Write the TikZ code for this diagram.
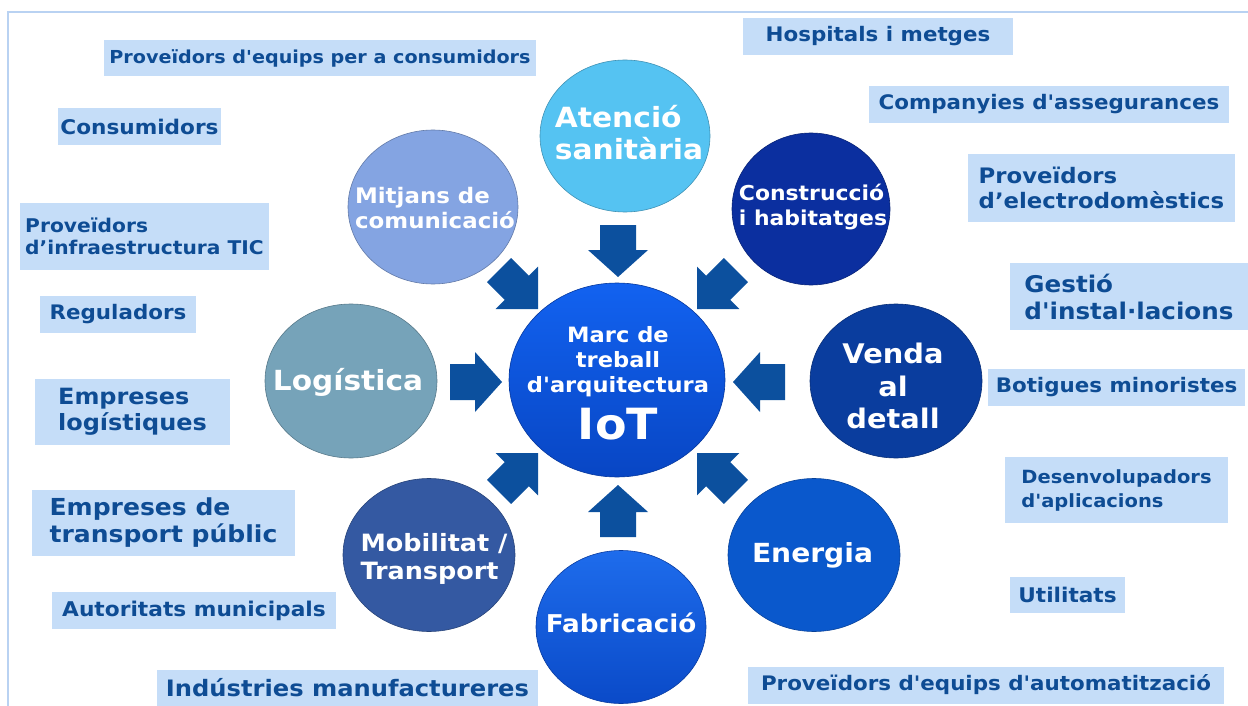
\documentclass[tikz,border=0pt]{standalone}
\usepackage{fontspec}
\newfontfamily\dejavu[FakeStretch=1.07]{DejaVu Sans}
\usetikzlibrary{shapes.geometric}

\definecolor{framecol}{RGB}{185,210,242}
\definecolor{boxfill}{RGB}{197,221,248}
\definecolor{boxtext}{RGB}{14,76,148}
\definecolor{arrowcol}{RGB}{12,80,158}
\definecolor{cAtencio}{RGB}{85,195,242}
\definecolor{cMitjans}{RGB}{132,164,226}
\definecolor{cConstr}{RGB}{11,47,159}
\definecolor{cLogist}{RGB}{118,163,185}
\definecolor{cVenda}{RGB}{10,61,158}
\definecolor{cMobil}{RGB}{52,89,162}
\definecolor{cEnergia}{RGB}{10,88,204}
\definecolor{cIotTop}{RGB}{18,98,240}
\definecolor{cIotBot}{RGB}{8,70,196}
\definecolor{cFabTop}{RGB}{30,108,236}
\definecolor{cFabBot}{RGB}{10,74,200}

\newcommand\fsz[2]{\dejavu\fontsize{#1}{#2}\selectfont\bfseries}
% partner box: name, centre x, centre y, width, height, size, leading, text
\newcommand\partnerbox[8]{%
  \node[partner, minimum width=#4pt, minimum height=#5pt, font=\fsz{#6}{#7}] (#1) at (#2,#3) {#8};}

\tikzset{
  partner/.style={fill=boxfill, text=boxtext, align=left, inner sep=0pt},
  sector/.style={ellipse, inner sep=0pt, fill=#1, draw=#1!75!black, line width=0.6pt},
  sectortext/.style={text=white, inner sep=0pt, align=left},
  % straight block arrow, tip at the origin, pointing along +x
  blockarrow/.pic={\fill[arrowcol] (0,0) -- (-27,-30) -- (-27,-18) -- (-52,-18)
                   -- (-52,18) -- (-27,18) -- (-27,30) -- cycle;},
  % diagonal block arrow with a right-angled head
  diagarrow/.pic={\fill[arrowcol] (0,0) -- (-30,-30) -- (-30,-17) -- (-55,-17)
                   -- (-55,17) -- (-30,17) -- (-30,30) -- cycle;}
}

\begin{document}
\begin{tikzpicture}[x=1pt,y=-1pt]
\useasboundingbox (0,0) rectangle (1248,706);
\fill[white] (0,0) rectangle (1248,706);

% frame lines
\draw[framecol, line width=1.2pt] (8,706) -- (8,12) -- (1248,12);

% partner boxes, left side
\partnerbox{pcons}{320}{58}{432}{36}{17.9}{21}{Proveïdors d'equips per a consumidors}
\partnerbox{cons}{139.5}{126.5}{163}{37}{20.2}{24}{Consumidors}
\partnerbox{tic}{144.5}{236.5}{249}{67}{18.9}{22.5}{Proveïdors\\d’infraestructura TIC}
\partnerbox{regul}{118}{314.5}{156}{37}{20}{24}{Reguladors}
\partnerbox{elog}{132.5}{412}{195}{66}{22.4}{26}{Empreses\\logístiques}
\partnerbox{etrans}{163.5}{523}{263}{66}{23.4}{27}{Empreses de\\transport públic}
\partnerbox{autor}{194}{610.5}{284}{37}{20.3}{24}{Autoritats municipals}
\partnerbox{indus}{347.5}{688}{381}{36}{22.6}{26}{Indústries manufactureres}

% partner boxes, right side
\partnerbox{hosp}{878}{36.5}{270}{37}{20}{24}{Hospitals i metges}
\partnerbox{asseg}{1049}{104.5}{360}{37}{20}{24}{Companyies d'assegurances}
\partnerbox{electro}{1101.5}{188}{267}{68}{21.3}{25}{Proveïdors\\d’electrodomèstics}
\partnerbox{gestio}{1129}{296.5}{238}{67}{23}{27}{Gestió\\d'instal·lacions}
\partnerbox{botig}{1116.5}{387.5}{257}{37}{20}{24}{Botigues minoristes}
\partnerbox{desenv}{1116.5}{490}{223}{66}{18.2}{24}{Desenvolupadors\\d'aplicacions}
\partnerbox{util}{1067.5}{595}{115}{36}{20.2}{24}{Utilitats}
\partnerbox{autom}{986}{685}{476}{37}{20}{24}{Proveïdors d'equips d'automatització}

% sector circles
\node[sector=cAtencio, minimum width=170pt, minimum height=152pt] (atencio) at (625,136) {};
\node[sector=cMitjans, minimum width=170pt, minimum height=154pt] (mitjans) at (433,207) {};
\node[sector=cConstr,  minimum width=158pt, minimum height=152pt] (constr)  at (811,209) {};
\node[sector=cLogist,  minimum width=172pt, minimum height=154pt] (logist)  at (351,381) {};
\node[sector=cVenda,   minimum width=172pt, minimum height=154pt] (venda)   at (896,381) {};
\node[sector=cMobil,   minimum width=172pt, minimum height=153pt] (mobil)   at (429,555) {};
\node[sector=cEnergia, minimum width=172pt, minimum height=153pt] (energia) at (814,555) {};
\node[ellipse, inner sep=0pt, top color=cFabTop, bottom color=cFabBot,
      draw=cFabBot!80!black, line width=0.6pt, minimum width=170pt,
      minimum height=153pt] (fabric) at (621,627) {};

% sector names
\node[sectortext, font=\fsz{27.8}{32}] (atencio-t) at (629,133) {Atenció\\sanitària};
\node[sectortext, font=\fsz{21.4}{25}] (mitjans-t) at (435,208) {Mitjans de\\comunicació};
\node[sectortext, font=\fsz{20.5}{25}] (constr-t) at (813,207) {Construcció\\i habitatges};
\node[sectortext, font=\fsz{27.7}{32}] (logist-t) at (348,382) {Logística};
\node[sectortext, align=center, font=\fsz{27}{32.5}] (venda-t) at (893,386) {Venda\\al\\detall};
\node[sectortext, font=\fsz{23.8}{28}] (mobil-t) at (434,559) {Mobilitat /\\Transport};
\node[sectortext, font=\fsz{24.5}{29}] (fabric-t) at (621,623) {Fabricació};
\node[sectortext, font=\fsz{26.3}{30}] (energia-t) at (812.5,555) {Energia};

% central framework
\node[ellipse, inner sep=0pt, top color=cIotTop, bottom color=cIotBot,
      draw=cIotBot!80!black, line width=0.6pt, minimum width=216pt,
      minimum height=194pt] (iot) at (617,380) {};
\node[sectortext, align=center, font=\fsz{21.1}{25}] (iot-t) at (618,383)
      {Marc de\\treball\\d'arquitectura\\[10pt]{\fsz{43}{47}IoT}};

% block arrows pointing at the framework
\pic[rotate=-90]  at (618,277) {blockarrow};
\pic[rotate=90]   at (618,485) {blockarrow};
\pic[rotate=0]    at (502,382) {blockarrow};
\pic[rotate=180]  at (733,382) {blockarrow};
\pic[rotate=-45]  at (538,309) {diagarrow};
\pic[rotate=-135] at (697,309) {diagarrow};
\pic[rotate=45]   at (538,453) {diagarrow};
\pic[rotate=135]  at (697,453) {diagarrow};
\end{tikzpicture}
\end{document}
